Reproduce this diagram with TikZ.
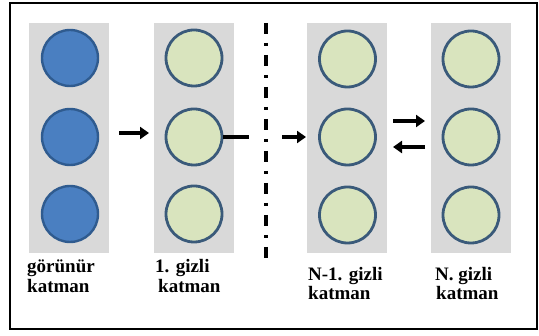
\documentclass[tikz,border=0pt]{standalone}
\usepackage{fontspec}
\setmainfont{Liberation Serif}
\usetikzlibrary{arrows.meta}
\definecolor{colgray}{HTML}{D9D9D9}
\definecolor{blueFill}{HTML}{4A7FC1}
\definecolor{blueEdge}{HTML}{2F5B8F}
\definecolor{greenFill}{HTML}{D9E4BE}
\definecolor{greenEdge}{HTML}{3A5A7A}
\tikzset{
  layerbox/.style={fill=colgray, draw=none, minimum width=80pt, minimum height=230pt, inner sep=0pt},
  vis/.style={circle, fill=blueFill, draw=blueEdge, line width=2.4pt, minimum size=56pt, inner sep=0pt},
  hid/.style={circle, fill=greenFill, draw=greenEdge, line width=2.8pt, minimum size=56pt, inner sep=0pt},
  lbl/.style={font=\bfseries\fontsize{19}{21}\selectfont, inner sep=0pt, anchor=base west},
  arr/.style={line width=4pt, -{Triangle[length=9pt,width=12pt]}},
  bar/.style={line width=4pt},
  divider/.style={line width=3.2pt, dash pattern=on 11pt off 9pt on 3pt off 9pt}
}
\begin{document}
\begin{tikzpicture}[x=1pt,y=-1pt]
\useasboundingbox (0,0) rectangle (539,336);
\draw[line width=2.4pt] (10,3) rectangle (537,329);
% layer backgrounds
\node[layerbox] (L1) at (69,138) {};
\node[layerbox] (L2) at (194,138) {};
\node[layerbox] (L3) at (346.5,138) {};
\node[layerbox] (L4) at (471,138) {};
% circles
\node[vis] (a1) at (70,58) {};
\node[vis] (a2) at (70,137) {};
\node[vis] (a3) at (70,214) {};
\node[hid] (b1) at (194,58) {};
\node[hid] (b2) at (194,137) {};
\node[hid] (b3) at (194,214) {};
\node[hid] (c1) at (347.5,59) {};
\node[hid] (c2) at (347.5,137) {};
\node[hid] (c3) at (347.5,215) {};
\node[hid] (d1) at (471,59) {};
\node[hid] (d2) at (471,137) {};
\node[hid] (d3) at (471,215) {};
% divider
\coordinate (dvTop) at (266,23);
\coordinate (dvBot) at (266,262);
\draw[divider] (dvTop) -- (dvBot);
% arrows
\coordinate (e1s) at (119,133);
\coordinate (e1e) at (149,133);
\draw[arr] (e1s) -- (e1e);
\coordinate (e2s) at (b2.east);
\coordinate (e2e) at (249,137);
\draw[bar] (e2s) -- (e2e);
\coordinate (e3s) at (282,137);
\coordinate (e3e) at (306,137);
\draw[arr] (e3s) -- (e3e);
\coordinate (e4s) at (393,121);
\coordinate (e4e) at (425,121);
\draw[arr] (e4s) -- (e4e);
\coordinate (e5s) at (425,147);
\coordinate (e5e) at (393,147);
\draw[arr] (e5s) -- (e5e);
% labels
\node[lbl] (t1a) at (27,273) {görünür};
\node[lbl] (t1b) at (27,293) {katman};
\node[lbl] (t2a) at (155,273) {1. gizli};
\node[lbl] (t2b) at (158,293) {katman};
\node[lbl] (t3a) at (308,281) {N-1. gizli};
\node[lbl] (t3b) at (308,300) {katman};
\node[lbl] (t4a) at (435,281) {N. gizli};
\node[lbl] (t4b) at (436,300) {katman};
\end{tikzpicture}
\end{document}
